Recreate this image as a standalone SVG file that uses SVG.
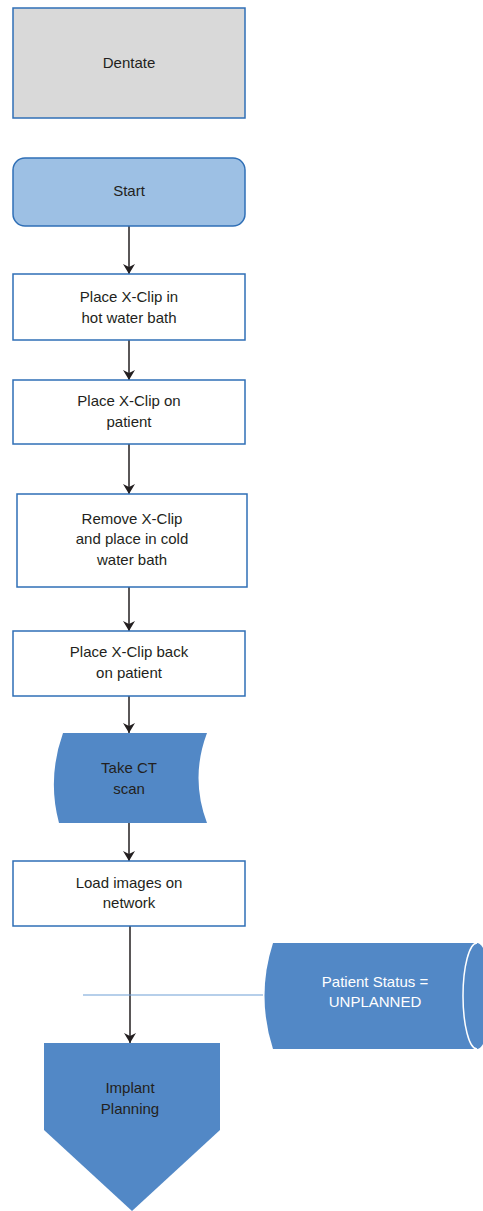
<svg xmlns="http://www.w3.org/2000/svg" width="483" height="1211" viewBox="0 0 483 1211">
<style>
.box{fill:#ffffff;stroke:#2f6fb6;stroke-width:1.5}
.t{font-family:"Liberation Sans",Arial,sans-serif;font-size:15px;fill:#231f20;text-anchor:middle}
.w{fill:#ffffff}
.conn{stroke:#231f20;stroke-width:1.5;fill:none;marker-end:url(#arr)}
.blue{fill:#5288c6}
</style>
<defs>
<marker id="arr" viewBox="0 0 10 12" refX="10" refY="6" markerWidth="12" markerHeight="12" markerUnits="userSpaceOnUse" orient="auto">
<path d="M0,0 L10,6 L0,12 L3,6 Z" fill="#231f20"/>
</marker>
</defs>
<rect width="483" height="1211" fill="#ffffff"/>
<g id="connectors">
<line class="conn" x1="129" y1="226" x2="129" y2="274"/>
<line class="conn" x1="129" y1="340" x2="129" y2="380"/>
<line class="conn" x1="129" y1="444" x2="129" y2="494"/>
<line class="conn" x1="129" y1="587" x2="129" y2="631"/>
<line class="conn" x1="129" y1="696" x2="129" y2="733"/>
<line class="conn" x1="129" y1="823" x2="129" y2="861"/>
<line class="conn" x1="130" y1="926" x2="130" y2="1043"/>
<line x1="83" y1="995" x2="263" y2="995" stroke="#6f9fd6" stroke-width="1.2"/>
</g>
<g id="dentate">
<rect x="13" y="8" width="232" height="110" fill="#d9d9d9" stroke="#2f6fb6" stroke-width="1.5"/>
<text class="t" x="129" y="68">Dentate</text>
</g>
<g id="start">
<rect x="13" y="158" width="232" height="68" rx="12" ry="12" fill="#9dc0e4" stroke="#2f6fb6" stroke-width="1.5"/>
<text class="t" x="129" y="196">Start</text>
</g>
<g id="hot-bath">
<rect class="box" x="13" y="274" width="232" height="66"/>
<text class="t" x="129" y="302">Place X-Clip in</text>
<text class="t" x="129" y="323">hot water bath</text>
</g>
<g id="on-patient">
<rect class="box" x="13" y="380" width="232" height="64"/>
<text class="t" x="129" y="406">Place X-Clip on</text>
<text class="t" x="129" y="427">patient</text>
</g>
<g id="cold-bath">
<rect class="box" x="17" y="494" width="230" height="93"/>
<text class="t" x="132" y="524">Remove X-Clip</text>
<text class="t" x="132" y="544">and place in cold</text>
<text class="t" x="132" y="565">water bath</text>
</g>
<g id="back-on-patient">
<rect class="box" x="13" y="631" width="232" height="65"/>
<text class="t" x="129" y="657">Place X-Clip back</text>
<text class="t" x="129" y="678">on patient</text>
</g>
<g id="ct-scan">
<path class="blue" d="M63,733 L207,733 Q190,778 207,823 L59,823 Q47,778 63,733 Z"/>
<text class="t" x="129" y="773">Take CT</text>
<text class="t" x="129" y="794">scan</text>
</g>
<g id="load-images">
<rect class="box" x="13" y="861" width="232" height="65"/>
<text class="t" x="129" y="888">Load images on</text>
<text class="t" x="129" y="908">network</text>
</g>
<g id="patient-status">
<path class="blue" d="M477,943 L273,943 Q256,996 273,1049 L477,1049 A14,53 0 0 0 477,943 Z"/>
<path d="M477,943 A14,53 0 0 0 477,1049" fill="none" stroke="#ffffff" stroke-width="1.5"/>
<text class="t w" x="375" y="987">Patient Status =</text>
<text class="t w" x="375" y="1007">UNPLANNED</text>
</g>
<g id="implant-planning">
<path class="blue" d="M44,1043 L220,1043 L220,1130 L132,1211 L44,1130 Z"/>
<text class="t" x="130" y="1093">Implant</text>
<text class="t" x="130" y="1114">Planning</text>
</g>
</svg>
